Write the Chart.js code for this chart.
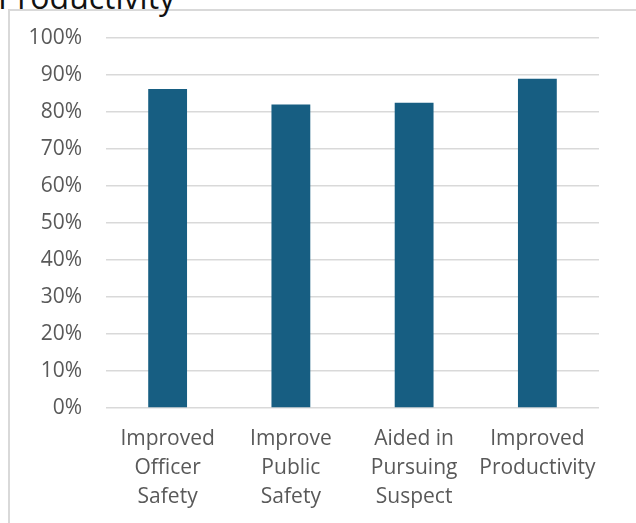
<!DOCTYPE html>
<html>
<head>
<meta charset="utf-8">
<script src="https://cdn.jsdelivr.net/npm/chart.js@4"></script>
<style>
  html, body { margin: 0; padding: 0; background: #fff; overflow: hidden; }
  #wrap { position: relative; width: 636px; height: 523px; }
  #frame { position: absolute; left: 8px; top: 9px; right: -2px; bottom: -2px;
           border-left: 2px solid #d9d9d9; border-top: 2px solid #d9d9d9; }
  #title { position: absolute; left: -2px; top: -25px; font-family: "Open Sans", sans-serif;
           font-size: 32px; color: #111; white-space: nowrap; }
  canvas { position: absolute; left: 0; top: 0; }
</style>
</head>
<body>
<div id="wrap">
  <div id="frame"></div>
  <div id="title">Productivity</div>
  <canvas id="chart" width="636" height="523"></canvas>
</div>
<script>
var categories = [
    ['Improved', 'Officer', 'Safety'],
    ['Improve', 'Public', 'Safety'],
    ['Aided in', 'Pursuing', 'Suspect'],
    ['Improved', 'Productivity']
];
var values = [86.2, 82.0, 82.5, 89.0];
var yMin = 0, yMax = 100, yStep = 10;

var chart = new Chart(document.getElementById('chart'), {
    type: 'bar',
    data: {
        labels: categories,
        datasets: [
            {
                label: 'Share',
                data: values,
                backgroundColor: '#175e82',
                categoryPercentage: 1,
                barPercentage: 0.315
            }
        ]
    },
    options: {
        animation: false,
        responsive: false,
        layout: {
            padding: { top: 38, right: 37, left: 0, bottom: 0 }
        },
        plugins: {
            legend: { display: false },
            tooltip: { enabled: false }
        },
        scales: {
            x: {
                grid: { display: false },
                border: { display: false },
                ticks: {
                    color: '#595959',
                    padding: 9,
                    maxRotation: 0,
                    autoSkip: false,
                    font: { family: 'Open Sans', size: 21, lineHeight: 1.38 }
                },
                afterFit: function (s) { s.height = 115; }
            },
            y: {
                min: yMin,
                max: yMax,
                border: { display: false },
                grid: { color: '#d9d9d9', lineWidth: 1.5, drawTicks: false },
                ticks: {
                    stepSize: yStep,
                    color: '#595959',
                    padding: 24,
                    font: { family: 'Open Sans', size: 21 },
                    callback: function (v) { return v + '%'; }
                },
                afterFit: function (s) { s.width = 106; }
            }
        }
    }
});
</script>
</body>
</html>
